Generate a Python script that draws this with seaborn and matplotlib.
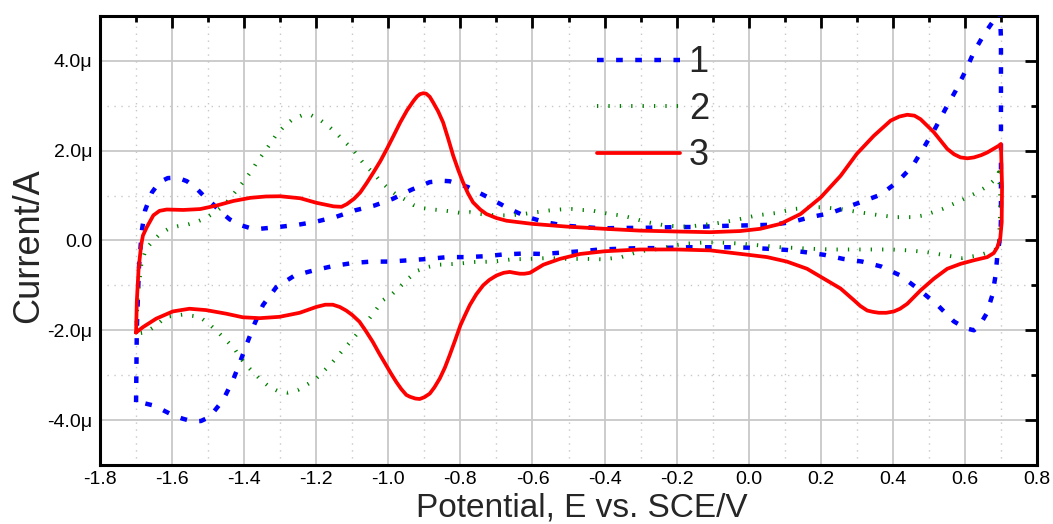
import numpy as np
import pandas as pd
import seaborn as sns
import matplotlib
matplotlib.use("Agg")
import matplotlib.pyplot as plt
from matplotlib.ticker import MultipleLocator, FuncFormatter

# ---------------- data (potential in V, current in microampere) ----------------
x1 = [-1.700, -1.698, -1.692, -1.684, -1.675, -1.656, -1.635, -1.612, -1.585, -1.559, -1.535, -1.513,
      -1.488, -1.464, -1.440, -1.413, -1.385, -1.357, -1.306, -1.251, -1.200, -1.144, -1.093, -1.038,
      -0.987, -0.936, -0.885, -0.850, -0.830, -0.779, -0.723, -0.668, -0.617, -0.566, -0.510, -0.459,
      -0.408, -0.353, -0.302, -0.251, -0.195, -0.144, -0.094, -0.038, 0.014, 0.065, 0.120, 0.171,
      0.227, 0.278, 0.310, 0.366, 0.412, 0.454, 0.486, 0.519, 0.546, 0.574, 0.602, 0.625, 0.653,
      0.685, 0.697, 0.700, 0.700, 0.700, 0.699, 0.697, 0.690, 0.685, 0.676, 0.660, 0.640, 0.625,
      0.600, 0.569, 0.523, 0.472, 0.421, 0.368, 0.315, 0.262, 0.210, 0.157, 0.105, 0.053, 0.000,
      -0.054, -0.107, -0.161, -0.214, -0.265, -0.306, -0.360, -0.413, -0.466, -0.519, -0.572, -0.624,
      -0.679, -0.731, -0.783, -0.836, -0.890, -0.941, -0.996, -1.047, -1.098, -1.154, -1.209, -1.260,
      -1.311, -1.348, -1.371, -1.394, -1.413, -1.431, -1.459, -1.496, -1.520, -1.543, -1.570, -1.598,
      -1.625, -1.654, -1.680, -1.695, -1.700]
y1 = [-3.60, -2.00, -0.60, 0.22, 0.67, 1.07, 1.30, 1.39, 1.40, 1.32, 1.18, 1.00,
      0.82, 0.63, 0.47, 0.35, 0.28, 0.26, 0.30, 0.35, 0.42, 0.53, 0.67, 0.78,
      0.93, 1.13, 1.30, 1.33, 1.32, 1.19, 0.96, 0.72, 0.53, 0.41, 0.33, 0.30,
      0.27, 0.28, 0.28, 0.29, 0.30, 0.30, 0.32, 0.33, 0.34, 0.35, 0.41, 0.52,
      0.61, 0.76, 0.85, 1.02, 1.30, 1.65, 2.07, 2.52, 2.93, 3.33, 3.78, 4.20, 4.59,
      4.96, 5.10, 4.50, 2.00, 0.50, 0.20, 0.04, -0.33, -0.78, -1.22, -1.63, -1.90, -2.00,
      -1.95, -1.80, -1.43, -1.09, -0.78, -0.58, -0.47, -0.41, -0.32, -0.26, -0.21, -0.185, -0.16,
      -0.15, -0.15, -0.15, -0.16, -0.17, -0.17, -0.185, -0.20, -0.24, -0.27, -0.30, -0.29,
      -0.31, -0.35, -0.37, -0.37, -0.41, -0.44, -0.47, -0.47, -0.50, -0.57, -0.67, -0.78,
      -1.04, -1.44, -1.85, -2.33, -2.74, -3.11, -3.56, -3.93, -4.02, -4.03, -3.97, -3.89,
      -3.78, -3.67, -3.62, -3.59, -3.60]

x2 = [-1.700, -1.695, -1.685, -1.672, -1.652, -1.633, -1.610, -1.583, -1.559, -1.533, -1.507, -1.481,
      -1.457, -1.439, -1.420, -1.400, -1.379, -1.365, -1.346, -1.328, -1.313, -1.292, -1.267, -1.239,
      -1.214, -1.190, -1.165, -1.147, -1.124, -1.100, -1.082, -1.064, -1.041, -1.022, -0.999, -0.976,
      -0.953, -0.930, -0.904, -0.876, -0.848, -0.820, -0.797, -0.774, -0.746, -0.719, -0.691, -0.663,
      -0.635, -0.607, -0.580, -0.552, -0.524, -0.492, -0.464, -0.436, -0.413, -0.385, -0.357, -0.334,
      -0.311, -0.283, -0.256, -0.228, -0.205, -0.181, -0.154, -0.126, -0.098, -0.070, -0.047, -0.023,
      0.023, 0.074, 0.125, 0.176, 0.204, 0.255, 0.306, 0.356, 0.407, 0.458, 0.486, 0.537, 0.588,
      0.634, 0.662, 0.685, 0.694, 0.698, 0.697, 0.694, 0.690, 0.667, 0.639, 0.593, 0.546, 0.495,
      0.444, 0.394, 0.343, 0.292, 0.241, 0.190, 0.139, 0.088, 0.032, -0.023, -0.066, -0.117, -0.172,
      -0.200, -0.250, -0.302, -0.353, -0.404, -0.450, -0.506, -0.557, -0.607, -0.658, -0.709, -0.760,
      -0.811, -0.862, -0.890, -0.918, -0.945, -0.964, -0.989, -1.015, -1.033, -1.052, -1.070, -1.089,
      -1.107, -1.126, -1.144, -1.163, -1.186, -1.205, -1.228, -1.251, -1.279, -1.305, -1.330, -1.353,
      -1.374, -1.394, -1.413, -1.427, -1.450, -1.473, -1.496, -1.524, -1.570, -1.617, -1.644, -1.672,
      -1.700]
y2 = [-2.08, -1.20, -0.50, -0.18, 0.00, 0.15, 0.26, 0.32, 0.35, 0.41, 0.50, 0.63,
      0.78, 0.94, 1.13, 1.33, 1.56, 1.74, 1.95, 2.15, 2.33, 2.52, 2.69, 2.79,
      2.79, 2.69, 2.54, 2.41, 2.22, 2.04, 1.85, 1.67, 1.50, 1.32, 1.15, 1.01,
      0.91, 0.79, 0.72, 0.69, 0.67, 0.64, 0.61, 0.63, 0.59, 0.57, 0.56, 0.56,
      0.58, 0.61, 0.64, 0.67, 0.69, 0.70, 0.68, 0.67, 0.63, 0.59, 0.56, 0.52,
      0.47, 0.41, 0.37, 0.33, 0.32, 0.31, 0.32, 0.35, 0.37, 0.41, 0.44, 0.48,
      0.56, 0.61, 0.70, 0.74, 0.74, 0.70, 0.63, 0.57, 0.52, 0.52, 0.56, 0.70, 0.89,
      1.07, 1.21, 1.37, 1.52, 1.00, 0.40, -0.04, -0.19, -0.26, -0.33, -0.39, -0.33, -0.26,
      -0.22, -0.20, -0.20, -0.20, -0.20, -0.19, -0.17, -0.15, -0.11, -0.07, -0.05, -0.04, -0.07,
      -0.10, -0.19, -0.24, -0.37, -0.42, -0.41, -0.41, -0.39, -0.41, -0.42, -0.47, -0.48,
      -0.52, -0.54, -0.59, -0.67, -0.85, -1.00, -1.19, -1.33, -1.53, -1.73, -1.93, -2.10,
      -2.27, -2.44, -2.61, -2.78, -2.96, -3.11, -3.22, -3.33, -3.39, -3.36, -3.26, -3.11,
      -2.94, -2.78, -2.59, -2.41, -2.22, -2.04, -1.87, -1.70, -1.65, -1.70, -1.89, -2.04,
      -2.08]

x3 = [-1.700, -1.698, -1.693, -1.686, -1.681, -1.670, -1.652, -1.635, -1.615, -1.569, -1.522, -1.476,
      -1.430, -1.383, -1.340, -1.300, -1.244, -1.200, -1.152, -1.130, -1.115, -1.095, -1.078, -1.060,
      -1.041, -1.022, -1.004, -0.985, -0.967, -0.948, -0.930, -0.920, -0.912, -0.903, -0.895, -0.885,
      -0.876, -0.862, -0.848, -0.834, -0.820, -0.806, -0.793, -0.779, -0.765, -0.745, -0.728, -0.700,
      -0.672, -0.600, -0.506, -0.400, -0.302, -0.200, -0.107, -0.024, 0.032, 0.088, 0.144, 0.200,
      0.255, 0.300, 0.347, 0.394, 0.418, 0.440, 0.460, 0.477, 0.514, 0.551, 0.570, 0.588, 0.607,
      0.625, 0.645, 0.662, 0.694, 0.700, 0.703, 0.702,
      0.698, 0.690, 0.680, 0.662, 0.625, 0.588, 0.551, 0.514, 0.477, 0.440, 0.420, 0.403, 0.382,
      0.361, 0.345, 0.329, 0.310, 0.292, 0.255, 0.200, 0.162, 0.106, 0.051, 0.000, -0.107, -0.200,
      -0.302, -0.400, -0.468, -0.524, -0.570, -0.607, -0.622, -0.635, -0.650, -0.663, -0.680, -0.700,
      -0.720, -0.737, -0.756, -0.774, -0.787, -0.800, -0.815, -0.830, -0.843, -0.857, -0.872, -0.885,
      -0.900, -0.913, -0.925, -0.940, -0.950, -0.964, -0.978, -0.992, -1.006, -1.025, -1.043, -1.062,
      -1.080, -1.100, -1.117, -1.135, -1.154, -1.175, -1.200, -1.246, -1.302, -1.357, -1.404, -1.450,
      -1.506, -1.552, -1.598, -1.644, -1.681, -1.700]
y3 = [-2.05, -1.37, -0.63, -0.11, 0.11, 0.30, 0.56, 0.66, 0.69, 0.68, 0.70, 0.78,
      0.88, 0.95, 0.98, 0.985, 0.94, 0.84, 0.76, 0.75, 0.81, 0.93, 1.07, 1.28,
      1.52, 1.77, 2.04, 2.34, 2.63, 2.90, 3.11, 3.21, 3.26, 3.28, 3.27, 3.20,
      3.08, 2.88, 2.63, 2.27, 1.89, 1.57, 1.30, 1.05, 0.85, 0.69, 0.59, 0.50,
      0.44, 0.37, 0.31, 0.26, 0.22, 0.20, 0.185, 0.21, 0.26, 0.37, 0.59, 0.96,
      1.44, 1.93, 2.33, 2.67, 2.76, 2.80, 2.78, 2.70, 2.41, 2.04, 1.92, 1.85, 1.83,
      1.85, 1.90, 1.96, 2.11, 2.15, 1.20, 0.40,
      0.05, -0.15, -0.28, -0.37, -0.44, -0.52, -0.63, -0.85, -1.11, -1.41, -1.52, -1.58, -1.61,
      -1.61, -1.59, -1.56, -1.46, -1.33, -1.07, -0.81, -0.63, -0.47, -0.37, -0.32, -0.22, -0.20,
      -0.20, -0.24, -0.30, -0.41, -0.54, -0.72, -0.74, -0.74, -0.72, -0.70, -0.72, -0.78,
      -0.88, -1.00, -1.20, -1.44, -1.66, -1.89, -2.23, -2.56, -2.83, -3.07, -3.27, -3.41,
      -3.49, -3.53, -3.52, -3.48, -3.44, -3.31, -3.15, -2.97, -2.78, -2.52, -2.26, -2.02,
      -1.81, -1.66, -1.56, -1.48, -1.43, -1.43, -1.48, -1.61, -1.70, -1.73, -1.71, -1.63,
      -1.55, -1.52, -1.58, -1.74, -1.93, -2.05]

labels = ["1", "2", "3"]
x_ticks = [-1.8, -1.6, -1.4, -1.2, -1.0, -0.8, -0.6, -0.4, -0.2, 0.0, 0.2, 0.4, 0.6, 0.8]
y_ticks = [-4, -2, 0, 2, 4]

# ---------------- style ----------------
sns.set_theme(style="white")
plt.rcParams['font.family'] = ['Liberation Sans', 'DejaVu Sans']

fig = plt.figure(figsize=(10.53, 5.24), dpi=100)
ax = fig.add_axes([0.095, 0.1126, 0.8898, 0.8569])

styles = [
    dict(color="#0000ff", lw=3.2, ls=(0, (1.5, 2.8))),
    dict(color="#008000", lw=2.8, ls=(0, (0.33, 2.6))),
    dict(color="#ff0000", lw=2.7, ls="-"),
]
for xs, ys, lab, st in zip([x1, x2, x3], [y1, y2, y3], labels, styles):
    df = pd.DataFrame({"E": xs, "I": ys})
    sns.lineplot(data=df, x="E", y="I", sort=False, estimator=None, ax=ax,
                 label=lab, color=st["color"], linewidth=st["lw"], linestyle=st["ls"],
                 dash_capstyle="butt", solid_joinstyle="round", zorder=3)

ax.set_xlim(-1.8, 0.8)
ax.set_ylim(-5, 5)
ax.set_xticks(x_ticks)
ax.set_yticks(y_ticks)
ax.xaxis.set_minor_locator(MultipleLocator(0.1))
ax.yaxis.set_minor_locator(MultipleLocator(1))


def xfmt(v, pos):
    v = round(v, 3)
    if abs(v) < 1e-9:
        v = 0.0
    return f"{v:.1f}"


def yfmt(v, pos):
    if abs(v) < 1e-9:
        return "0.0"
    return f"{v:.1f}\u03bc"


ax.xaxis.set_major_formatter(FuncFormatter(xfmt))
ax.yaxis.set_major_formatter(FuncFormatter(yfmt))

ax.set_axisbelow(True)
ax.grid(which="major", color="#c8c8c8", linewidth=1.3, linestyle="-")
ax.grid(which="minor", color="#c8c8c8", linewidth=1.0, linestyle=(0, (1, 4)))

for sp in ax.spines.values():
    sp.set_visible(True)
    sp.set_color("black")
    sp.set_linewidth(2.2)

ax.tick_params(which="both", direction="in", top=True, right=True, colors="black")
ax.tick_params(which="major", length=8.5, width=2, labelsize=14, pad=4)
ax.tick_params(axis="y", which="major", pad=5.5)
ax.tick_params(which="minor", length=4.5, width=2)

ax.set_xlabel("Potential, E vs. SCE/V", fontsize=24)
ax.set_ylabel("Current/A", fontsize=26)
ax.xaxis.set_label_coords(0.514, -0.062)
ax.yaxis.set_label_coords(-0.058, 0.488)

ax.legend(loc="upper left", bbox_to_anchor=(0.530, 0.935), frameon=False,
          fontsize=26, handlelength=2.3, handletextpad=0.25, labelspacing=0.32,
          borderpad=0, borderaxespad=0)

fig.savefig("out.png", dpi=100)
